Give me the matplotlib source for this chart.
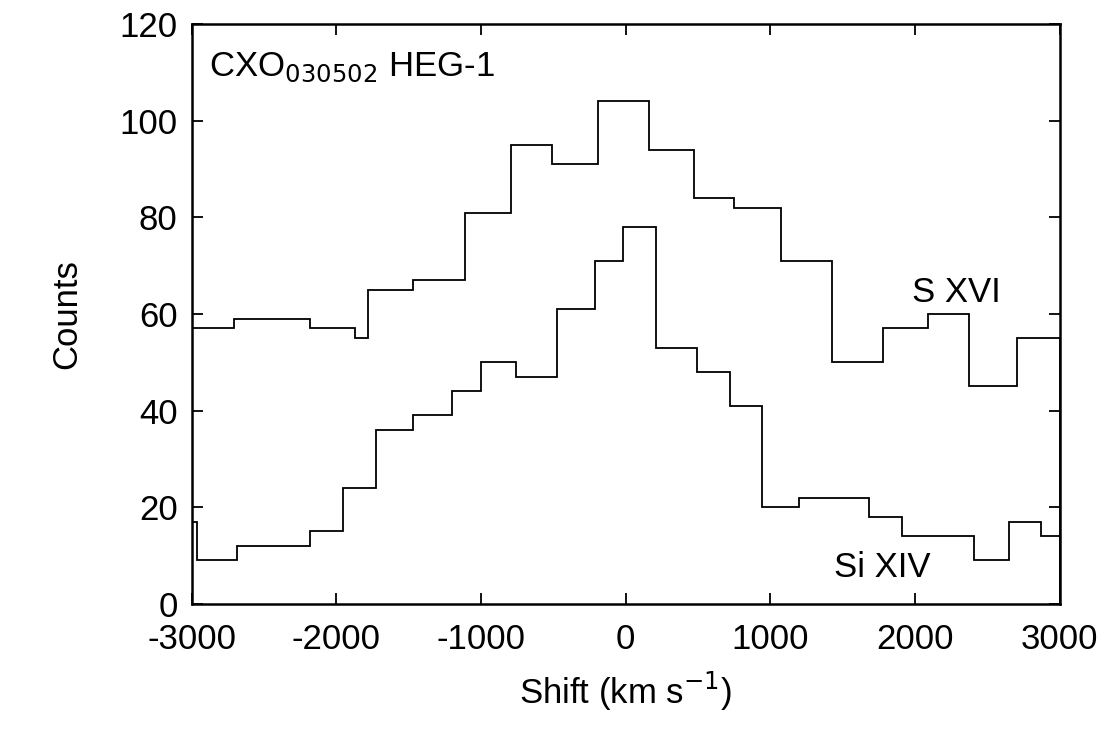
import matplotlib
matplotlib.use("Agg")
import matplotlib.pyplot as plt

plt.rcParams['font.family'] = ['Liberation Sans', 'DejaVu Sans']
plt.rcParams['axes.unicode_minus'] = False

s_edges = [-3000, -2709, -2184, -1873, -1783, -1472, -1113, -795, -511, -187, 159, 470,
           753, 1078, 1424, 1783, 2094, 2377, 2709, 3000]
s_counts = [57, 59, 57, 55, 65, 67, 81, 95, 91, 104, 94, 84, 82, 71, 50, 57, 60, 45, 55]

si_edges = [-3000, -2965, -2688, -2184, -1956, -1728, -1472, -1202, -1002, -760, -477, -214,
            -14, 214, 491, 719, 940, 1202, 1686, 1914, 2412, 2654, 2875, 3000]
si_counts = [17, 9, 12, 15, 24, 36, 39, 44, 50, 47, 61, 71, 78, 53, 48, 41, 20, 22, 18, 14, 9, 17, 14]

fig = plt.figure(figsize=(11.2, 7.31), dpi=100)
ax = fig.add_axes([0.171, 0.174, 0.775, 0.793])

ax.stairs(s_counts, s_edges, color='black', lw=1.3)
ax.stairs(si_counts, si_edges, color='black', lw=1.3)

ax.set_xlim(-3000, 3000)
ax.set_ylim(0, 120)
ax.set_xticks(range(-3000, 3001, 1000))
ax.set_yticks(range(0, 121, 20))
ax.tick_params(direction='in', labelsize=25, length=8, width=1.3, top=True, right=True)
ax.tick_params(axis='x', pad=14)
ax.tick_params(axis='y', pad=10)
for sp in ax.spines.values():
    sp.set_linewidth(1.8)

ax.set_xlabel('Shift (km s$^{-1}$)', fontsize=25, labelpad=10)
ax.set_ylabel('Counts', fontsize=25, labelpad=26)

ax.text(-2880, 111, r'CXO$_{030502}$ HEG-1', fontsize=25, va='center')
ax.text(1980, 64.5, 'S XVI', fontsize=25, va='center')
ax.text(1440, 7.5, 'Si XIV', fontsize=25, va='center')

fig.savefig('out.png', dpi=100)
